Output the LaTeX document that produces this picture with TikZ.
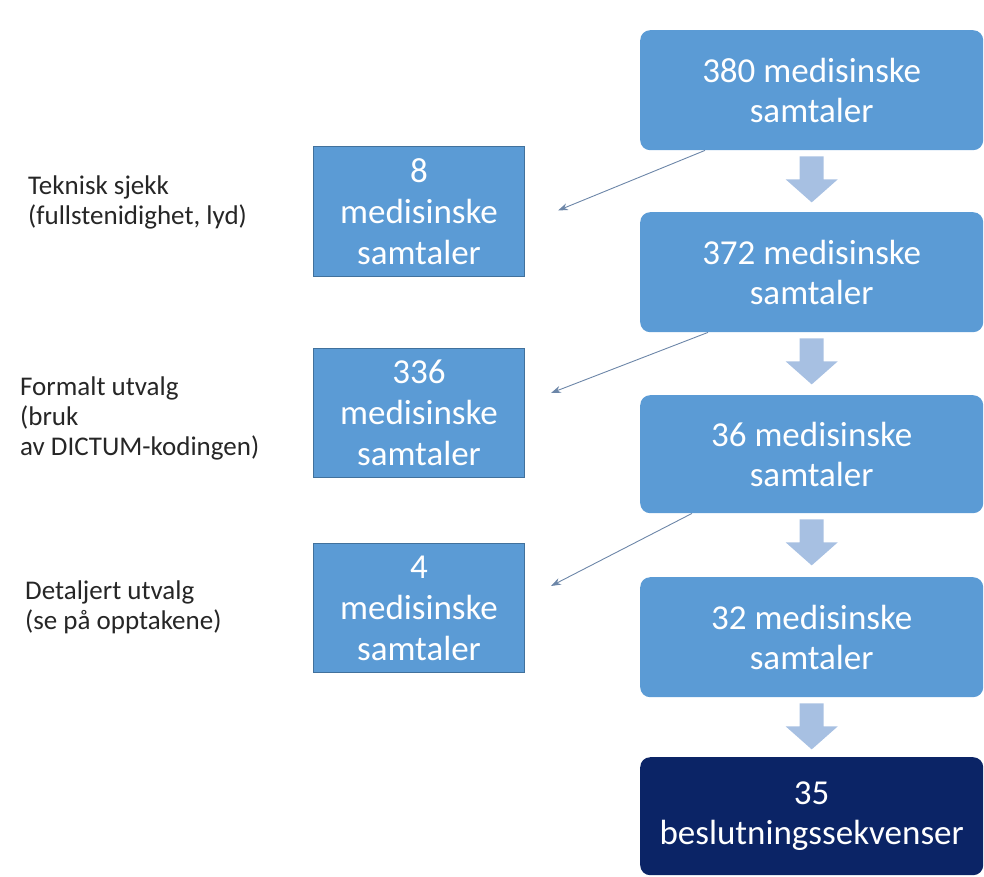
\documentclass[tikz,border=0pt]{standalone}
\usepackage{fontspec}
\setmainfont{Carlito}
\usetikzlibrary{calc,arrows.meta}
\definecolor{boxblue}{HTML}{5B9BD5}
\definecolor{boxedge}{HTML}{41719C}
\definecolor{navyblue}{HTML}{0B2466}
\definecolor{flowarrow}{HTML}{A7C0E2}
\definecolor{thinline}{HTML}{6C86A8}
\begin{document}
\begin{tikzpicture}[x=1pt,y=-1pt,
  rbox/.style={fill=boxblue, rounded corners=10pt, minimum width=343pt, minimum height=120pt,
    inner sep=0pt, text=white, align=center, anchor=north west,
    font=\fontsize{35}{40}\selectfont},
  lbox/.style={fill=boxblue, draw=boxedge, line width=1pt, minimum width=211pt, minimum height=129pt,
    inner sep=0pt, text=white, align=center, anchor=north west,
    font=\fontsize{35}{41}\selectfont},
  lbl/.style={inner sep=0pt, align=left, anchor=north west, text=black!85,
    font=\fontsize{27}{30}\selectfont},
  thin/.style={draw=thinline, line width=0.9pt, -{Stealth[length=10pt,width=7pt]}}
]
\useasboundingbox (0,0) rectangle (984,877);
% right column
\node[rbox] (r1) at (640,30) {380 medisinske\\samtaler};
\node[rbox] (r2) at (640,212) {372 medisinske\\samtaler};
\node[rbox, minimum height=118pt] (r3) at (640,395) {36 medisinske\\samtaler};
\node[rbox] (r4) at (640,577) {32 medisinske\\samtaler};
\node[rbox, fill=navyblue, minimum height=118pt] (r5) at (640,757) {35\\beslutningssekvenser};
% left boxes
\node[lbox, minimum height=130pt] (l1) at (313,146) {8\\medisinske\\samtaler};
\node[lbox] (l2) at (313,348) {336\\medisinske\\samtaler};
\node[lbox] (l3) at (313,543) {4\\medisinske\\samtaler};
% labels
\node[lbl] (t1) at (28,176) {Teknisk sjekk\\(fullstenidighet, lyd)};
\node[lbl] (t2) at (20,377) {Formalt utvalg\\(bruk\\av DICTUM-kodingen)};
\node[lbl] (t3) at (25,581) {Detaljert utvalg\\(se på opptakene)};
% block arrows
\foreach \a in {r1,r2,r3,r4}{
  \fill[flowarrow] ($(\a.south)+(-12,6)$) -- ($(\a.south)+(12,6)$) -- ($(\a.south)+(12,29)$)
    -- ($(\a.south)+(26,29)$) -- ($(\a.south)+(0,52)$) -- ($(\a.south)+(-26,29)$)
    -- ($(\a.south)+(-12,29)$) -- cycle;
}
% thin diagonal arrows
\coordinate (e1) at ($(l1.east)+(33,-1)$);
\coordinate (e2) at ($(l2.east)+(26,-20)$);
\coordinate (e3) at ($(l3.east)+(26,-22)$);
\draw[thin] ($(r1.south west)+(65,0)$) -- (e1);
\draw[thin] ($(r2.south west)+(68,0)$) -- (e2);
\draw[thin] ($(r3.south west)+(52,0)$) -- (e3);
\end{tikzpicture}
\end{document}
